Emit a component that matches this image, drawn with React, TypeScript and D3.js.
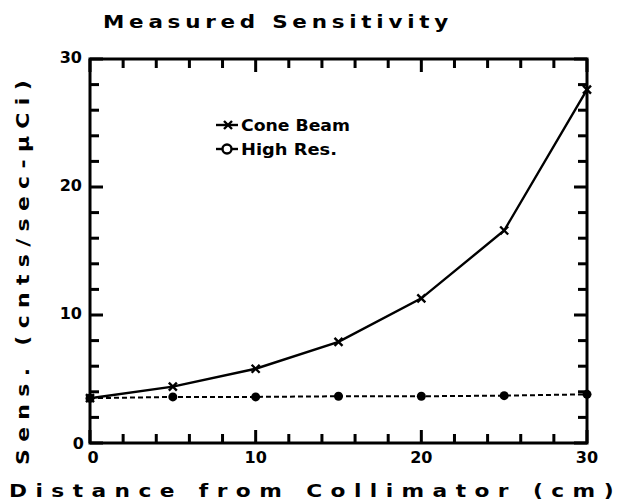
import React from "react";
import * as d3 from "d3";

const distances = [0, 5, 10, 15, 20, 25, 30];
const coneBeam = [3.5, 4.4, 5.8, 7.9, 11.3, 16.6, 27.6];
const highRes = [3.5, 3.6, 3.6, 3.65, 3.65, 3.7, 3.8];
const xTicks = [0, 10, 20, 30];
const yTicks = [0, 10, 20, 30];

const W = 629, H = 500;
const L = 90, R = 587, T = 59, B = 443;

export default function App() {
  const x = d3.scaleLinear().domain([0, 30]).range([L, R]);
  const y = d3.scaleLinear().domain([0, 30]).range([B, T]);
  const minors = x.ticks(15);
  const line = d3.line<number>().x((_, i) => x(distances[i])).y((d) => y(d));
  const wide = "'DejaVu Sans', Verdana, sans-serif";
  const sans = "'DejaVu Sans', Arial, sans-serif";
  const ink = "#000";
  return (
    <svg width={W} height={H} style={{ position: "absolute", left: 0, top: 0, background: "#fff" }}>
      <text x={103} y={28} fontFamily={wide} fontWeight="bold" fontSize={18} letterSpacing={4} textLength={350} lengthAdjust="spacingAndGlyphs" fill={ink}>Measured Sensitivity</text>
      {minors.map((v) => {
        const len = v % 10 === 0 ? 13 : 9;
        return (
          <g key={"t" + v} fill={ink}>
            <rect x={x(v) - 1.5} y={B - len} width={3} height={len} />
            <rect x={x(v) - 1.5} y={T} width={3} height={len} />
            <rect x={L} y={y(v) - 1.5} width={len} height={3} />
            <rect x={R - len} y={y(v) - 1.5} width={len} height={3} />
          </g>
        );
      })}
      <rect x={L} y={T} width={R - L} height={B - T} fill="none" stroke={ink} strokeWidth={3} />
      {xTicks.map((v) => (
        <text key={"x" + v} x={x(v) + (v === 0 ? 3 : 0)} y={463} textAnchor="middle" fontFamily={sans} fontWeight="bold" fontSize={16} fill={ink}>{v}</text>
      ))}
      {yTicks.map((v) => (
        <text key={"y" + v} x={v === 0 ? L - 6 : L - 8} y={y(v) + (v === 0 ? 6 : 4)} textAnchor="end" fontFamily={sans} fontWeight="bold" fontSize={16} fill={ink}>{v}</text>
      ))}
      <text x={9} y={497} fontFamily={wide} fontWeight="bold" fontSize={18} letterSpacing={7} textLength={613} lengthAdjust="spacingAndGlyphs" fill={ink}>Distance from Collimator (cm)</text>
      <text transform={`translate(29,465) rotate(-90)`} fontFamily={wide} fontWeight="bold" fontSize={18} letterSpacing={6} textLength={392} lengthAdjust="spacingAndGlyphs" fill={ink}>Sens. (cnts/sec-µCi)</text>
      <path d={line(highRes) || ""} fill="none" stroke={ink} strokeWidth={2} strokeDasharray="5,3" />
      <path d={line(coneBeam) || ""} fill="none" stroke={ink} strokeWidth={2.4} />
      {highRes.map((v, i) => (
        <circle key={"h" + i} cx={x(distances[i])} cy={y(v)} r={4.5} fill={ink} />
      ))}
      {coneBeam.map((v, i) => {
        const cx = x(distances[i]), cy = y(v), s = 4;
        return (
          <path key={"c" + i} d={`M${cx - s},${cy - s}L${cx + s},${cy + s}M${cx - s},${cy + s}L${cx + s},${cy - s}`} stroke={ink} strokeWidth={2.4} />
        );
      })}
      <g>
        <line x1={216} x2={238} y1={125} y2={125} stroke={ink} strokeWidth={2.4} />
        <path d="M224,121L232,129M224,129L232,121" stroke={ink} strokeWidth={2.4} />
        <text x={241} y={131} fontFamily={sans} fontWeight="bold" fontSize={16} textLength={109} lengthAdjust="spacingAndGlyphs" fill={ink}>Cone Beam</text>
        <line x1={216} x2={238} y1={149} y2={149} stroke={ink} strokeWidth={2.4} />
        <circle cx={227} cy={149} r={4.5} fill="#fff" stroke={ink} strokeWidth={2.4} />
        <text x={241} y={155} fontFamily={sans} fontWeight="bold" fontSize={16} textLength={96} lengthAdjust="spacingAndGlyphs" fill={ink}>High Res.</text>
      </g>
    </svg>
  );
}
